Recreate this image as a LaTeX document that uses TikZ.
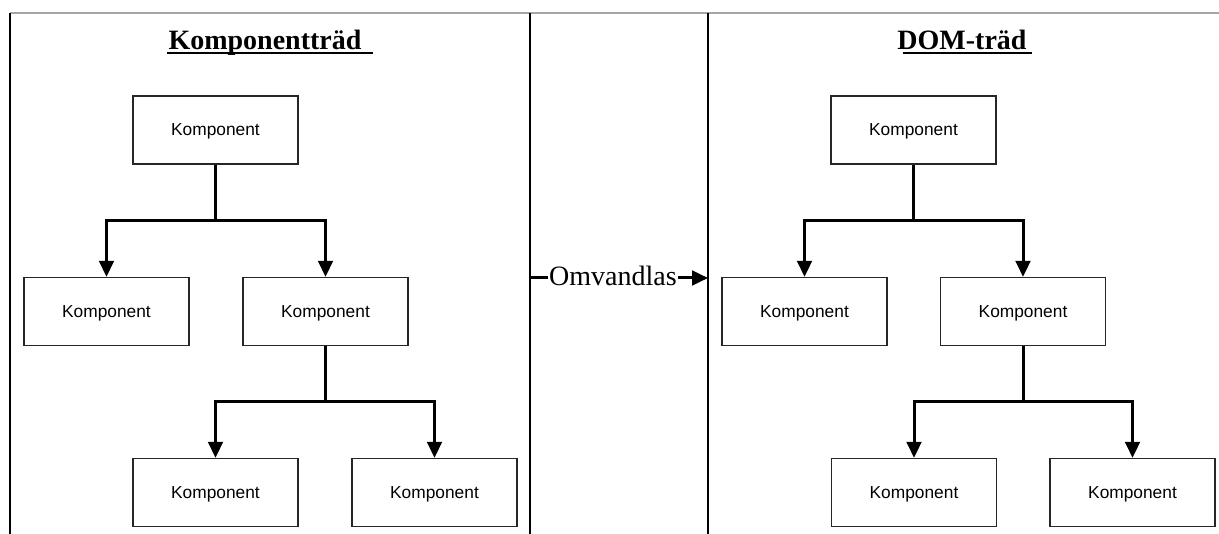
\documentclass[tikz,border=0pt]{standalone}
\usepackage{fontspec}
\setmainfont{Liberation Serif}
\newfontfamily\boxfont{Liberation Sans}
\usetikzlibrary{arrows.meta,calc}
\tikzset{
  compbox/.style={draw=black!85, line width=1pt, minimum width=123.75pt, minimum height=51pt, inner sep=0pt, text depth=0pt, font=\boxfont\fontsize{13pt}{15pt}\selectfont},
  conn/.style={line width=2.25pt, -{Triangle[length=12pt,width=11pt]}},
  conntail/.style={line width=2.25pt},
  divider/.style={line width=1pt, black},
  border/.style={line width=1.5pt, black},
  titletext/.style={font=\bfseries\fontsize{21pt}{24pt}\selectfont, inner sep=0pt, anchor=base},
  uline/.style={line width=1.6pt}
}
\begin{document}
\begin{tikzpicture}[x=0.75pt,y=-0.75pt]
\useasboundingbox (0,0) rectangle (1219,534);
% frame lines
\draw[gray!70, line width=0.8pt] (10,13) -- (1219,13);
\draw[border] (10,13) -- (10,534);
\draw[divider] (530,13) -- (530,534);
\draw[divider] (708,13) -- (708,534);

% titles
\node[titletext] (t1) at (265,50) {Komponentträd};
\draw[uline] (167,53) -- (373,53);
\node[titletext] (t2) at (962,50) {DOM-träd};
\draw[uline] (903,53) -- (1032,53);

% branch levels
\coordinate (b1) at (0,221);
\coordinate (b2) at (0,401);

% left tree
\node[compbox] (la) at (215.5,130) {Komponent};
\node[compbox] (lb) at (106.5,311.5) {Komponent};
\node[compbox] (lc) at (325.5,311.5) {Komponent};
\node[compbox] (ld) at (215.5,492.5) {Komponent};
\node[compbox] (le) at (434.5,492.5) {Komponent};
\draw[conn] (la.south) -- (la.south |- b1) -| (lb.north);
\draw[conn] (la.south) -- (la.south |- b1) -| (lc.north);
\draw[conn] (lc.south) -- (lc.south |- b2) -| (ld.north);
\draw[conn] (lc.south) -- (lc.south |- b2) -| (le.north);

% right tree
\node[compbox] (ra) at (913.5,130) {Komponent};
\node[compbox] (rb) at (804.5,311.5) {Komponent};
\node[compbox] (rc) at (1023,311.5) {Komponent};
\node[compbox] (rd) at (914,492.5) {Komponent};
\node[compbox] (re) at (1132.5,492.5) {Komponent};
\draw[conn] (ra.south) -- (ra.south |- b1) -| (rb.north);
\draw[conn] (ra.south) -- (ra.south |- b1) -| (rc.north);
\draw[conn] (rc.south) -- (rc.south |- b2) -| (rd.north);
\draw[conn] (rc.south) -- (rc.south |- b2) -| (re.north);

% transform arrow
\coordinate (ol) at (530,278);
\coordinate (or) at (708,278);
\node[font=\fontsize{21pt}{24pt}\selectfont, inner sep=1pt] (om) at (613,276) {Omvandlas};
\draw[conntail] (ol) -- (ol -| om.west);
\draw[conn] (or -| om.east) -- (or);
\end{tikzpicture}
\end{document}
